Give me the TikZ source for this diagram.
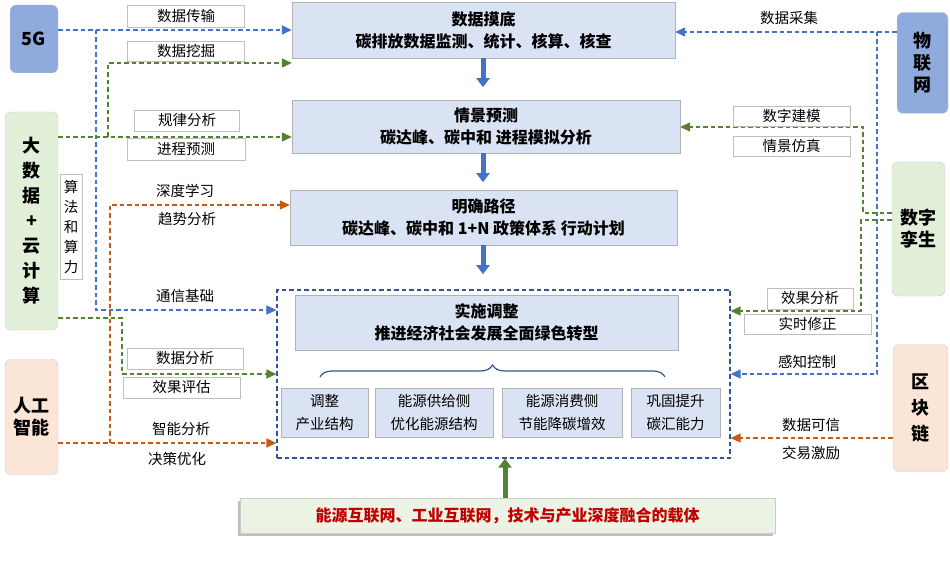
\documentclass[tikz,border=0pt]{standalone}
\usepackage{fontspec}
\setmainfont{Noto Sans CJK SC}
\usetikzlibrary{arrows.meta,decorations.pathreplacing,shadows}
\definecolor{bfill}{HTML}{8FAADC}
\definecolor{gfill}{HTML}{E2F0D9}
\definecolor{ofill}{HTML}{FBE5D6}
\definecolor{mfill}{HTML}{DAE3F3}
\definecolor{bl}{HTML}{4472C4}
\definecolor{gr}{HTML}{548235}
\definecolor{orr}{HTML}{C55A11}
\definecolor{dk}{HTML}{2F5597}
\tikzset{
 side/.style={draw=gray!40,rounded corners=6pt,minimum width=48pt,align=center,font=\bfseries\fontsize{18}{22}\selectfont,inner sep=0pt},
 main/.style={draw=gray!60,fill=mfill,align=center,font=\bfseries\fontsize{16}{22}\selectfont,inner sep=0pt},
 small/.style={draw=gray!60,fill=mfill,align=center,font=\fontsize{14.5}{23}\selectfont,inner sep=0pt},
 lab/.style={draw=gray!50,fill=white,font=\fontsize{14.5}{16}\selectfont,inner sep=0pt},
 nlab/.style={font=\fontsize{14.5}{16}\selectfont,inner sep=0pt},
 con/.style={dash pattern=on 4.5pt off 3pt,line width=1.4pt,-{Triangle[length=10pt,width=9pt]}},
}
\begin{document}
\begin{tikzpicture}[x=1pt,y=-1pt]
\useasboundingbox (0,0) rectangle (950,569);
% side boxes
\node[side,fill=bfill,minimum height=68pt] (g5) at (34,39) {5G};
\node[side,fill=gfill,minimum height=218pt,minimum width=53pt,font=\bfseries\fontsize{18}{25}\selectfont] (bd) at (31.5,221) {大\\数\\据\\+\\云\\计\\算};
\node[draw=gray!50,fill=white,minimum width=22pt,minimum height=105pt,align=center,font=\fontsize{14.5}{20}\selectfont,inner sep=0pt] (sf) at (71,227) {算\\法\\和\\算\\力};
\node[side,fill=ofill,minimum height=115pt,minimum width=53pt] (ai) at (31.5,417) {人工\\智能};
\node[side,fill=bfill,minimum height=101pt,minimum width=51pt] (iot) at (922.5,63) {物\\联\\网};
\node[side,fill=gfill,minimum height=134pt,minimum width=53pt] (dt) at (918.5,229) {数字\\孪生};
\node[side,fill=ofill,minimum height=127pt,minimum width=55pt,font=\bfseries\fontsize{18}{26}\selectfont] (bc) at (920.5,408) {区\\块\\链};
% main boxes
\node[main,minimum width=383pt,minimum height=56pt] (m1) at (483.5,30) {数据摸底\\碳排放数据监测、统计、核算、核查};
\node[main,minimum width=388pt,minimum height=53pt] (m2) at (486,126.5) {情景预测\\碳达峰、碳中和 进程模拟分析};
\node[main,minimum width=387pt,minimum height=55pt] (m3) at (483.5,217.5) {明确路径\\碳达峰、碳中和 1+N 政策体系 行动计划};
\node[draw=dk,dash pattern=on 4.5pt off 3pt,line width=1.2pt,minimum width=453pt,minimum height=168pt,inner sep=0pt] (m4) at (503.5,374) {};
\node[main,minimum width=383pt,minimum height=55pt] (m4t) at (486.5,322.5) {实施调整\\推进经济社会发展全面绿色转型};
\node[small,minimum width=87pt,minimum height=49pt] (s1) at (324.5,412.5) {调整\\产业结构};
\node[small,minimum width=118pt,minimum height=49pt] (s2) at (434,412.5) {能源供给侧\\优化能源结构};
\node[small,minimum width=120pt,minimum height=49pt] (s3) at (562,412.5) {能源消费侧\\节能降碳增效};
\node[small,minimum width=89pt,minimum height=49pt] (s4) at (675.5,412.5) {巩固提升\\碳汇能力};
\coordinate (b1) at (320,377); \coordinate (b2) at (665,377);
\draw[dk,line width=1.2pt,decorate,decoration={brace,amplitude=12pt}] (b1) -- (b2);
% banner
\node[fill=gfill!70,draw=gray!40,minimum width=535pt,minimum height=35pt,inner sep=0pt,font=\bfseries\fontsize{16}{18}\selectfont,text=red!75!black,drop shadow={shadow xshift=-2pt,shadow yshift=-3pt,opacity=0.5}] (ban) at (507.5,515.5) {能源互联网、工业互联网，技术与产业深度融合的载体};
\draw[gr,line width=5pt,-{Triangle[length=9pt,width=13pt]}] (ban.north -| 505,0) -- (m4.south -| 505,0);
% blue arrows between main
\foreach \a/\b in {m1/m2,m2/m3,m3/m4}
  \draw[bl,line width=5pt,-{Triangle[length=9pt,width=13pt]}] (\a.south -| 483,0) -- ++(0,29);
% left connectors
\coordinate (j5) at (96,30);
\draw[con,bl] (g5.east |- j5) -- (m1.west |- j5);
\draw[con,bl] (j5) -- (96,310) -- (m4.west |- 0,310);
\coordinate (jb) at (108,137);
\draw[con,gr] (bd.east |- jb) -- (m2.west |- jb);
\draw[con,gr] (jb) -- (108,63) -- (m1.west |- 0,63);
\coordinate (jb2) at (122,318);
\draw[con,gr] (bd.east |- jb2) -- (jb2) -- (122,374) -- (m4.west |- 0,374);
\coordinate (ja) at (110,443);
\draw[con,orr] (ai.east |- ja) -- (m4.west |- ja);
\draw[con,orr] (ja) -- (110,205) -- (m3.west |- 0,205);
% right connectors
\coordinate (ji) at (877,32);
\draw[con,bl] (iot.west |- ji) -- (m1.east |- ji);
\draw[con,bl] (ji) -- (877,374) -- (m4.east |- 0,374);
\draw[con,gr] (dt.west |- 0,213) -- (863,213) -- (863,127) -- (m2.east |- 0,127);
\draw[con,gr] (dt.west |- 0,220) -- (861,220) -- (861,311) -- (m4.east |- 0,311);
\draw[con,orr] (bc.west |- 0,438) -- (m4.east |- 0,438);
% labels
\node[lab,minimum width=117pt,minimum height=22pt] (l1) at (186,16) {数据传输};
\node[lab,minimum width=117pt,minimum height=20pt] (l2) at (186,51) {数据挖掘};
\node[lab,minimum width=105pt,minimum height=21pt] (l3) at (187,120.5) {规律分析};
\node[lab,minimum width=118pt,minimum height=22pt] (l4) at (186,149) {进程预测};
\node[nlab] (l5) at (185,191) {深度学习};
\node[nlab] (l6) at (187,219) {趋势分析};
\node[nlab] (l7) at (185,296) {通信基础};
\node[lab,minimum width=116pt,minimum height=21pt] (l8) at (185,358.5) {数据分析};
\node[lab,minimum width=117pt,minimum height=21pt] (l9) at (181.5,387.5) {效果评估};
\node[nlab] (l10) at (181,429) {智能分析};
\node[nlab] (l11) at (177,459) {决策优化};
\node[nlab] (r1) at (789,18) {数据采集};
\node[lab,minimum width=117pt,minimum height=20pt] (r2) at (791.5,116) {数字建模};
\node[lab,minimum width=117pt,minimum height=20pt] (r3) at (791.5,146) {情景仿真};
\node[lab,minimum width=86pt,minimum height=21pt] (r4) at (810,298.5) {效果分析};
\node[lab,minimum width=127pt,minimum height=20pt] (r5) at (807.5,324) {实时修正};
\node[nlab] (r6) at (807,362) {感知控制};
\node[nlab] (r7) at (811,425) {数据可信};
\node[nlab] (r8) at (811,453) {交易激励};
\end{tikzpicture}
\end{document}
